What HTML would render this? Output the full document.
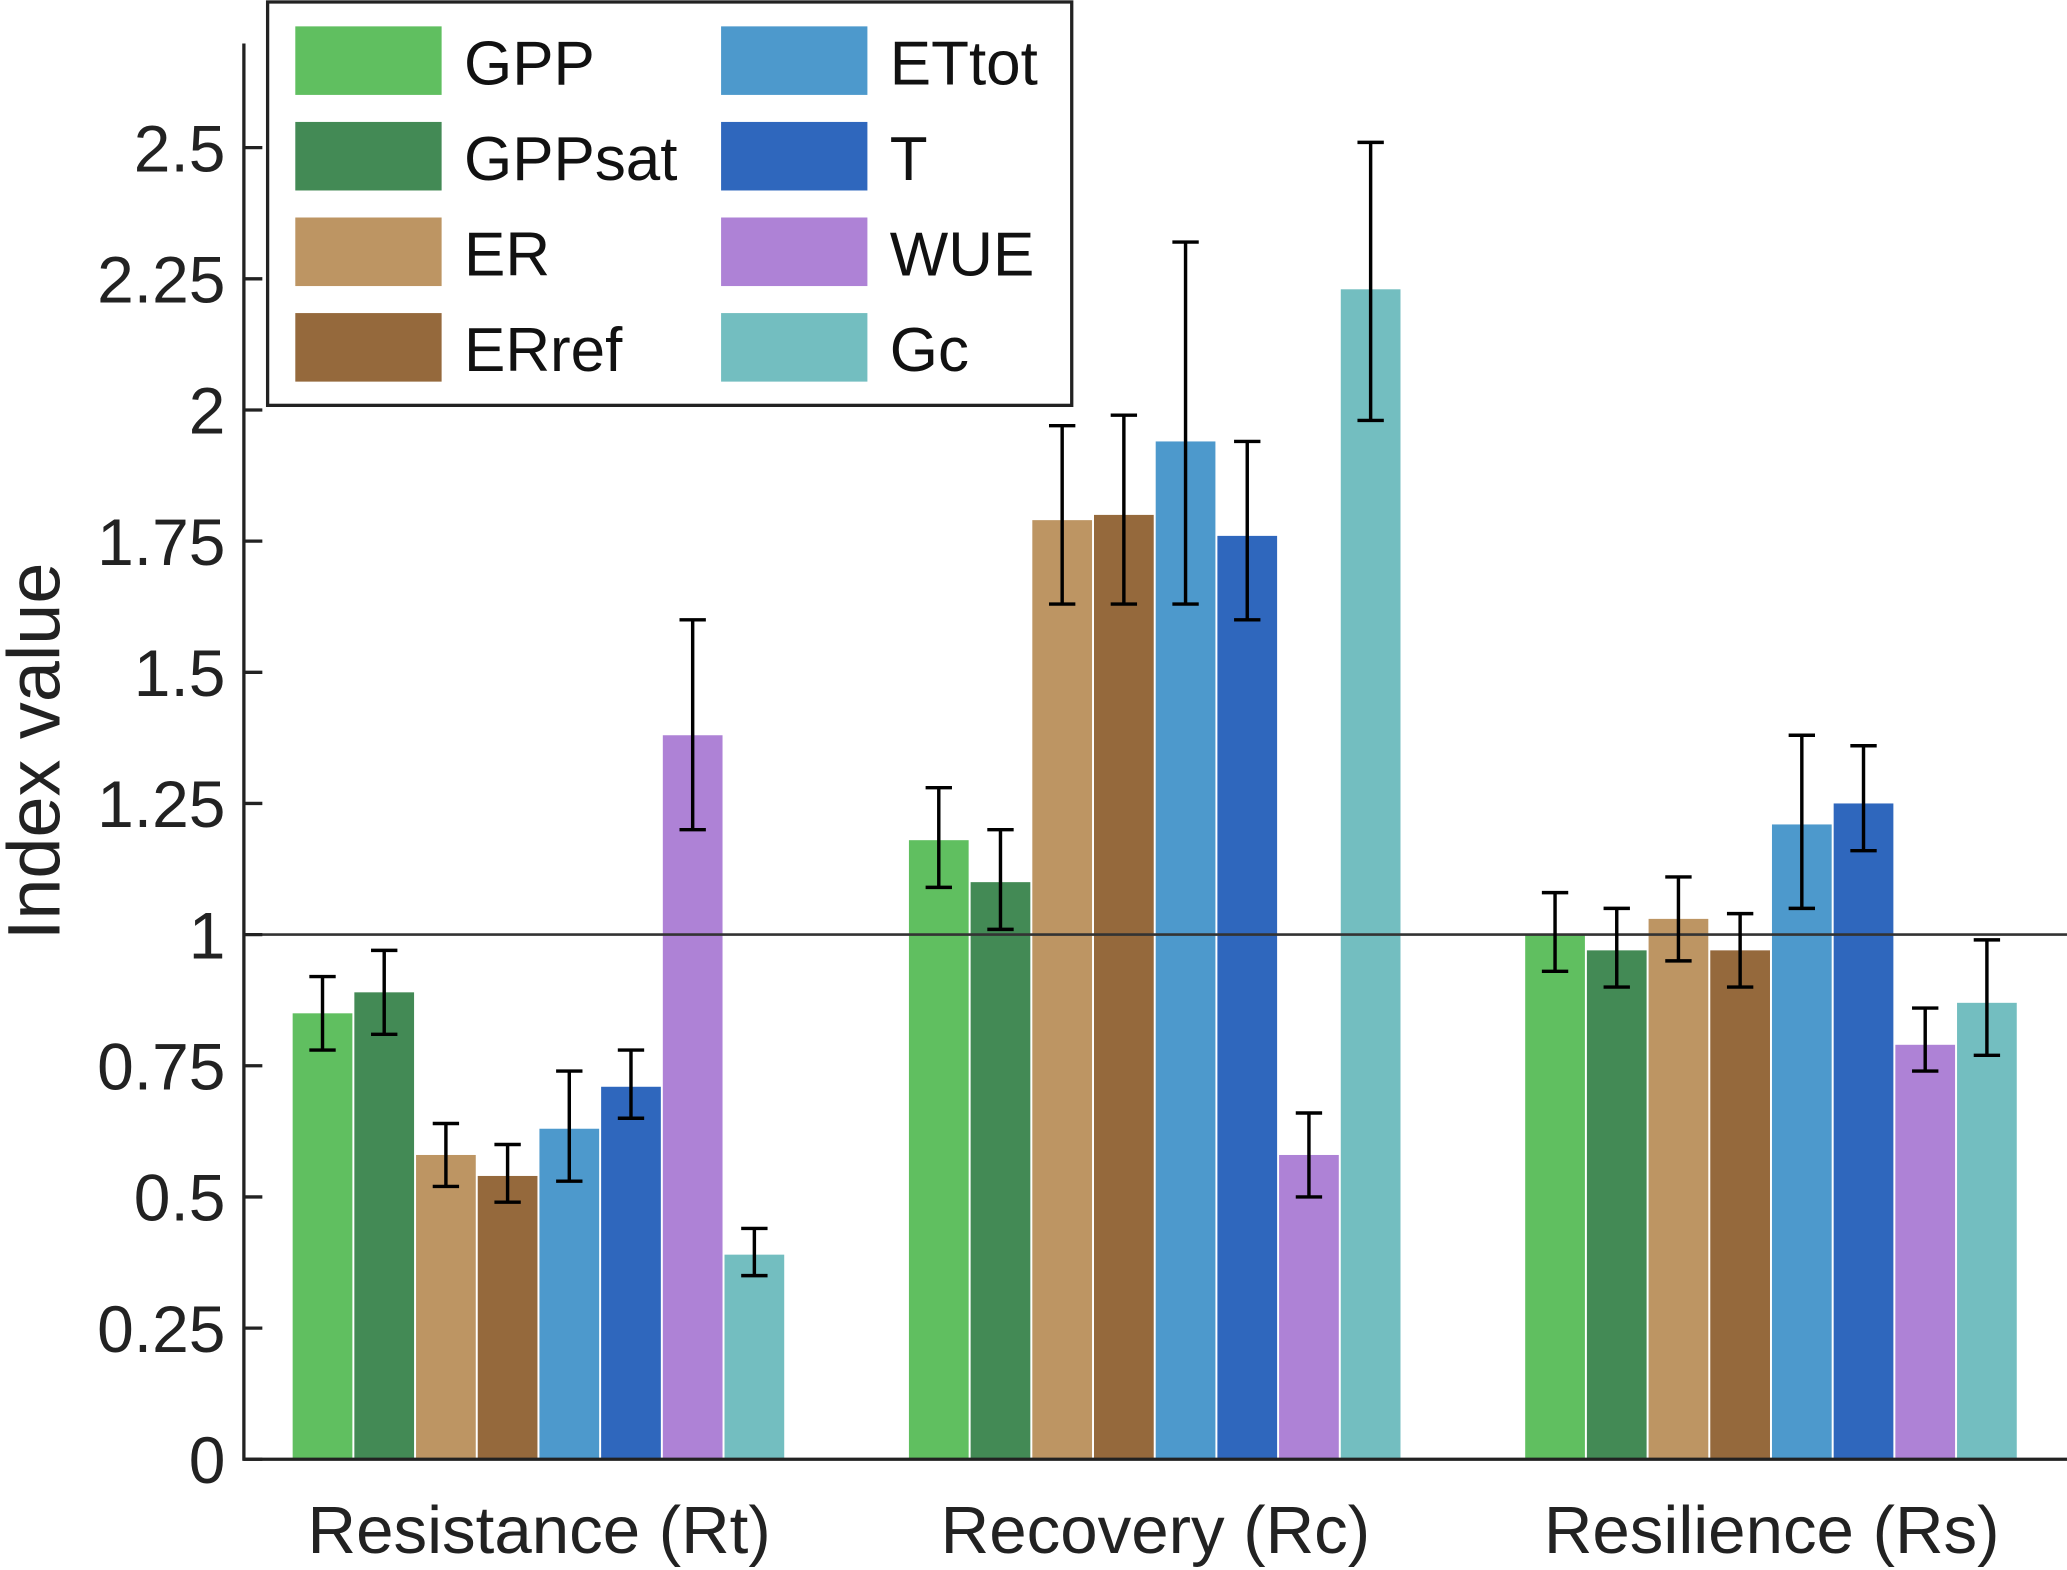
<!DOCTYPE html>
<html><head><meta charset="utf-8"><style>
html,body{margin:0;padding:0;background:#fff;}
svg{display:block;font-family:"Liberation Sans",sans-serif;}
</style></head><body>
<svg id="chart" width="2067" height="1570" viewBox="0 0 1568 1191" xmlns="http://www.w3.org/2000/svg"></svg>
<script>
const groups = ["Resistance (Rt)", "Recovery (Rc)", "Resilience (Rs)"];
const seriesNames = ["GPP","GPPsat","ER","ERref","ETtot","T","WUE","Gc"];
const seriesColors = ["#60bf60","#438a55","#bd9563","#95693c","#4d99cc","#2f67bd","#ae82d6","#73bec0"];
const valGPP    = [0.85, 1.18, 1.00];
const valGPPsat = [0.89, 1.10, 0.97];
const valER     = [0.58, 1.79, 1.03];
const valERref  = [0.54, 1.80, 0.97];
const valETtot  = [0.63, 1.94, 1.21];
const valT      = [0.71, 1.76, 1.25];
const valWUE    = [1.38, 0.58, 0.79];
const valGc     = [0.39, 2.23, 0.87];
const hiGPP=[0.92,1.28,1.08], loGPP=[0.78,1.09,0.93];
const hiGPPsat=[0.97,1.20,1.05], loGPPsat=[0.81,1.01,0.90];
const hiER=[0.64,1.97,1.11], loER=[0.52,1.63,0.95];
const hiERref=[0.60,1.99,1.04], loERref=[0.49,1.63,0.90];
const hiETtot=[0.74,2.32,1.38], loETtot=[0.53,1.63,1.05];
const hiT=[0.78,1.94,1.36], loT=[0.65,1.60,1.16];
const hiWUE=[1.60,0.66,0.86], loWUE=[1.20,0.50,0.74];
const hiGc=[0.44,2.51,0.99], loGc=[0.35,1.98,0.77];
const yTicks = [0,0.25,0.5,0.75,1,1.25,1.5,1.75,2,2.25,2.5];
const yTickLabels = ["0","0.25","0.5","0.75","1","1.25","1.5","1.75","2","2.25","2.5"];

const values=[valGPP,valGPPsat,valER,valERref,valETtot,valT,valWUE,valGc];
const highs=[hiGPP,hiGPPsat,hiER,hiERref,hiETtot,hiT,hiWUE,hiGc];
const lows=[loGPP,loGPPsat,loER,loERref,loETtot,loT,loWUE,loGc];

const NS="http://www.w3.org/2000/svg";
const svg=document.getElementById('chart');
const X0=185, X1=1568, Y0=1107, PPU=398;
const y=v=>Y0-v*PPU;
const groupStart=g=>222+g*467.5;
const barX=(g,s)=>groupStart(g)+s*46.8;
const BW=45.3;
function mk(t,a){const e=document.createElementNS(NS,t);for(const k in a)e.setAttribute(k,a[k]);svg.appendChild(e);return e;}

for(let s=0;s<values.length;s++){
  for(let g=0;g<groups.length;g++){
    const v=values[s][g];
    const r=mk('rect',{x:barX(g,s),y:y(v),width:BW,height:Y0-y(v),fill:seriesColors[s]});
    
    
  }
}
const ref=mk('line',{x1:X0,x2:X1,y1:y(1),y2:y(1),stroke:'#333','stroke-width':2});


for(let s=0;s<values.length;s++){
  for(let g=0;g<groups.length;g++){
    const cx=barX(g,s)+BW/2, hi=y(highs[s][g]), lo=y(lows[s][g]);
    const p=mk('path',{d:`M${cx},${hi}V${lo}M${cx-10},${hi}H${cx+10}M${cx-10},${lo}H${cx+10}`,stroke:'#000','stroke-width':2.6,fill:'none'});
    
    
  }
}
const ya=mk('line',{x1:X0,x2:X0,y1:33,y2:Y0+1,stroke:'#222','stroke-width':2.5});


const xa=mk('line',{x1:X0-1,x2:X1,y1:Y0,y2:Y0,stroke:'#222','stroke-width':2.5});


for(let i=0;i<yTicks.length;i++){
  const ty=y(yTicks[i]);
  const tk=mk('line',{x1:X0,x2:X0+14,y1:ty,y2:ty,stroke:'#222','stroke-width':2.5});
  
  
  const tl=mk('text',{x:171,y:ty+18,'text-anchor':'end','font-size':50,fill:'#222'});
  tl.textContent=yTickLabels[i];
  
  
}
for(let g=0;g<groups.length;g++){
  const t=mk('text',{x:groupStart(g)+187,y:1178,'text-anchor':'middle','font-size':51,fill:'#222'});
  t.textContent=groups[g];
  
  
}
const yt=mk('text',{x:0,y:0,transform:'translate(45,570) rotate(-90)','text-anchor':'middle','font-size':56,fill:'#222'});
yt.textContent='Index value';


const lb=mk('rect',{x:203,y:1.5,width:610,height:306,fill:'#fff',stroke:'#222','stroke-width':2.5});


for(let s=0;s<seriesNames.length;s++){
  const col=Math.floor(s/4), row=s%4;
  const sx=224+col*323, sy=20+row*72.5;
  const sw=mk('rect',{x:sx,y:sy,width:111,height:52,fill:seriesColors[s]});
  
  
  const lt=mk('text',{x:sx+128,y:sy+44,'font-size':47,fill:'#111'});
  lt.textContent=seriesNames[s];
  
  
}
</script>
</body></html>
